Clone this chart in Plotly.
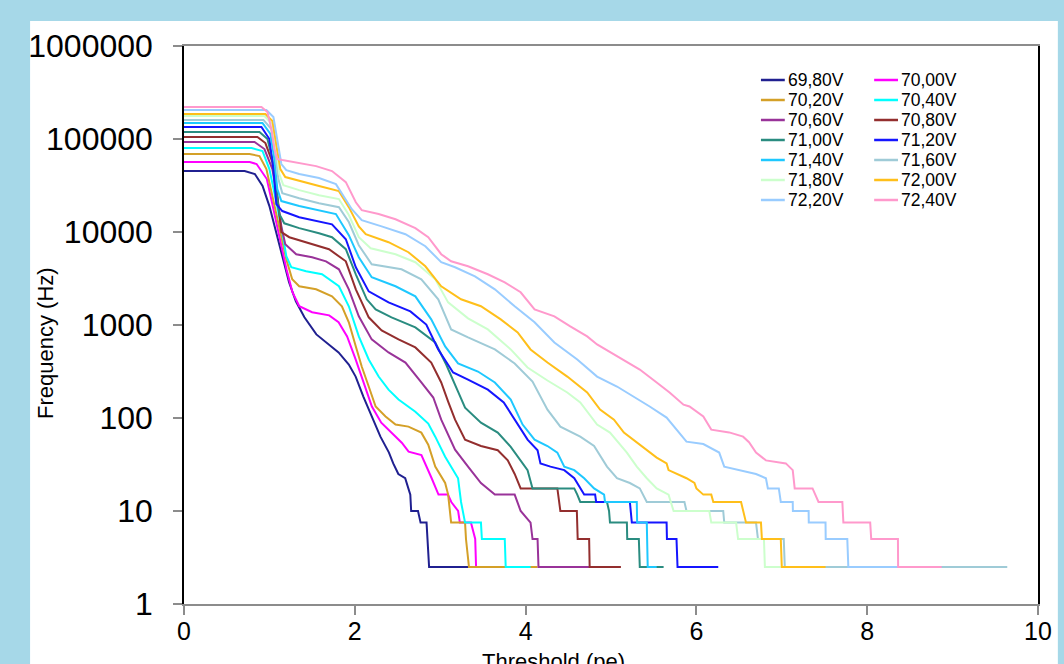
import plotly.graph_objects as go

# Threshold scans: rate above threshold vs threshold (pe), one series per bias voltage
labels = ["69,80V", "70,00V", "70,20V", "70,40V", "70,60V", "70,80V", "71,00V",
          "71,20V", "71,40V", "71,60V", "71,80V", "72,00V", "72,20V", "72,40V"]
colors = ["#202090", "#ff00ff", "#d4a028", "#00ffff", "#993399", "#932e2e", "#2a8c80",
          "#1515ff", "#1ec8ff", "#9fcbd7", "#ccffcc", "#ffbf1a", "#99ccff", "#ff99cc"]

x_6980 = [0, 0.71, 0.83, 0.92, 1.00, 1.08, 1.15, 1.23, 1.31, 1.41, 1.55, 1.70, 1.81, 1.93, 2.01,
          2.10, 2.20, 2.30, 2.40, 2.45, 2.51, 2.59, 2.65, 2.66, 2.74, 2.77, 2.84, 2.87, 3.35]
f_6980 = [45200, 45200, 42000, 31200, 19000, 9950, 5350, 2880, 1800, 1210, 792, 618, 507, 376, 279,
          170, 104, 63, 42.5, 32.5, 25, 22.5, 15, 10, 10, 7.5, 7.5, 2.5, 2.5]

x_7000 = [0, 0.77, 0.85, 0.97, 1.03, 1.12, 1.20, 1.27, 1.35, 1.50, 1.70, 1.81, 1.91, 2.01, 2.10,
          2.20, 2.31, 2.43, 2.55, 2.63, 2.78, 2.90, 2.98, 3.09, 3.13, 3.21, 3.23, 3.36, 3.41, 3.42, 3.62]
f_7000 = [56500, 56500, 53800, 37100, 20900, 9010, 3970, 2250, 1590, 1370, 1270, 1070, 754, 426, 241,
          133, 89, 69.6, 54.3, 43.5, 40, 22.5, 15, 15, 12.5, 10, 7.5, 7.5, 5, 2.5, 2.5]

x_7020 = [0, 0.767, 0.884, 0.965, 1.035, 1.116, 1.198, 1.267, 1.349, 1.547, 1.733, 1.849, 1.930,
          2.012, 2.081, 2.163, 2.244, 2.360, 2.477, 2.628, 2.779, 2.860, 2.942, 3.058, 3.093, 3.128,
          3.291, 3.302, 3.337, 4.140]
f_7020 = [68900, 68900, 65600, 47500, 24300, 10700, 5090, 3100, 2610, 2420, 2030, 1590, 1070,
          588, 358, 218, 133, 104, 85, 80.8, 69.6, 51.7, 30, 20, 15, 7.5,
          7.5, 5, 2.5, 2.5]

x_7040 = [0, 0.791, 0.919, 1.0, 1.081, 1.151, 1.198, 1.256, 1.430, 1.616, 1.814, 1.930, 2.047,
          2.163, 2.279, 2.395, 2.512, 2.709, 2.860, 2.942, 3.058, 3.209, 3.244, 3.291, 3.477, 3.488,
          3.756, 3.767, 4.058]
f_7040 = [80000, 80000, 74300, 47500, 20900, 9950, 5490, 4180, 3780, 3510, 2610, 1590, 754,
          426, 279, 202, 158, 117, 87, 63, 38.4, 22.5, 12.5, 7.5, 7.5, 5,
          5, 2.5, 2.5]

x_7060 = [0, 0.826, 0.942, 1.035, 1.093, 1.140, 1.186, 1.314, 1.5, 1.663, 1.814, 1.930, 2.047,
          2.198, 2.395, 2.593, 2.779, 2.919, 3.012, 3.093, 3.174, 3.326, 3.477, 3.640, 3.872, 3.942,
          4.058, 4.081, 4.140, 4.151, 4.837]
f_7060 = [92900, 92900, 78000, 47500, 22600, 11500, 7390, 5770, 5350, 4840, 3970, 2420, 1240,
          700, 507, 395, 241, 166, 96, 66.2, 45.6, 30, 20, 15, 15, 10,
          7.5, 5, 5, 2.5, 2.5]

x_7080 = [0, 0.860, 0.953, 1.035, 1.081, 1.116, 1.140, 1.233, 1.465, 1.698, 1.895, 2.012, 2.163,
          2.314, 2.512, 2.709, 2.895, 3.012, 3.093, 3.174, 3.291, 3.477, 3.674, 3.791, 3.872, 3.942,
          4.372, 4.407, 4.600, 4.610, 4.744, 4.750, 5.116]
f_7080 = [105000, 105000, 90500, 56500, 31200, 14800, 9950, 8790, 7570, 6530, 4840, 2420, 1210,
          875, 700, 574, 395, 241, 150, 96, 58.5, 50, 45, 35, 25, 17.5,
          17.5, 10, 10, 5, 5, 2.5, 2.5]

x_7100 = [0, 0.884, 0.977, 1.035, 1.081, 1.116, 1.174, 1.349, 1.581, 1.733, 1.895, 2.012, 2.140,
          2.244, 2.430, 2.709, 2.942, 3.070, 3.209, 3.291, 3.477, 3.674, 3.826, 3.942, 4.023, 4.081,
          4.570, 4.605, 4.640, 4.953, 4.977, 4.988, 5.186, 5.190, 5.326, 5.337, 5.616]
f_7100 = [119000, 119000, 100000, 60900, 28900, 15600, 12400, 11000, 9700, 8790, 6530, 3510, 1890,
          1470, 1210, 942, 649, 376, 192, 129, 89, 69.6, 49, 35, 27.5, 17.5,
          17.5, 15, 12.5, 12.5, 10, 7.5, 7.5, 5, 5, 2.5, 2.5]

x_7120 = [0, 0.907, 1.0, 1.047, 1.081, 1.151, 1.349, 1.581, 1.733, 1.895, 2.012, 2.163, 2.395,
          2.651, 2.837, 2.977, 3.151, 3.326, 3.558, 3.744, 3.907, 4.023, 4.140, 4.174, 4.291, 4.453,
          4.570, 4.640, 4.686, 4.814, 4.826, 5.221, 5.244, 5.651, 5.655, 5.767, 5.779, 6.256]
f_7120 = [134600, 134600, 100000, 47500, 19900, 16800, 14400, 13100, 12100, 8360, 4180, 2300, 1750,
          1400, 1010, 546, 309, 259, 202, 147, 85, 58.5, 45, 32.5, 30, 27.5,
          22.5, 17.5, 15, 15, 12.5, 12.5, 7.5, 7.5, 5, 5, 2.5, 2.5]

x_7140 = [0, 0.919, 1.012, 1.058, 1.093, 1.140, 1.349, 1.581, 1.779, 1.930, 2.047, 2.198, 2.477,
          2.709, 2.895, 3.058, 3.209, 3.442, 3.640, 3.826, 3.965, 4.105, 4.256, 4.372, 4.453, 4.570,
          4.686, 4.802, 4.919, 4.930, 5.302, 5.306, 5.419, 5.430, 5.535]
f_7140 = [148700, 148700, 113200, 60900, 28900, 21500, 19000, 17200, 15600, 9240, 5350, 3260, 2610,
          2030, 1150, 588, 386, 316, 241, 158, 85, 58.5, 50, 42.5, 30, 27.5,
          22.5, 17.5, 15, 12.5, 12.5, 7.5, 7.5, 2.5, 2.5]

x_7160 = [0, 0.930, 1.023, 1.070, 1.105, 1.151, 1.349, 1.581, 1.814, 1.930, 2.047, 2.198, 2.547,
          2.779, 2.977, 3.128, 3.326, 3.640, 3.872, 4.081, 4.256, 4.407, 4.640, 4.802, 4.953, 5.070,
          5.221, 5.337, 5.419, 5.860, 5.884, 6.314, 6.326, 6.698, 6.721, 7.023, 7.035, 9.640]
f_7160 = [160300, 160300, 128200, 68900, 37100, 26200, 23100, 20400, 18500, 12800, 7210, 4500, 3970,
          3100, 1890, 897, 735, 546, 386, 247, 123, 80.8, 63, 50, 30, 22.5,
          20, 17.5, 12.5, 12.5, 10, 10, 7.5, 7.5, 5, 5, 2.5, 2.5]

x_7180 = [0, 0.942, 1.035, 1.081, 1.116, 1.163, 1.349, 1.581, 1.814, 1.930, 2.047, 2.186, 2.477,
          2.709, 2.942, 3.093, 3.326, 3.558, 3.826, 4.023, 4.256, 4.488, 4.640, 4.837, 4.988, 5.186,
          5.302, 5.419, 5.535, 5.674, 5.733, 6.151, 6.174, 6.465, 6.488, 6.791, 6.802, 6.988]
f_7180 = [177000, 177000, 145200, 78000, 42000, 31900, 28200, 24900, 22600, 15200, 8790, 6690, 5770,
          4730, 3100, 1750, 1180, 897, 546, 349, 253, 188, 147, 85, 69.6, 42.5,
          30, 22.5, 17.5, 15, 10, 10, 7.5, 7.5, 5, 5, 2.5, 2.5]

x_7200 = [0, 0.953, 1.035, 1.081, 1.128, 1.186, 1.349, 1.581, 1.814, 1.930, 2.047, 2.128, 2.395,
          2.628, 2.826, 3.012, 3.244, 3.477, 3.709, 3.907, 4.058, 4.256, 4.488, 4.721, 4.872, 5.035,
          5.151, 5.302, 5.419, 5.535, 5.651, 5.674, 5.884, 5.977, 6.0, 6.081, 6.174, 6.198, 6.523,
          6.581, 6.756, 6.767, 6.988, 7.0, 7.512]
f_7200 = [186000, 186000, 156300, 88300, 47500, 39000, 35300, 31200, 27500, 18500, 11500, 9470, 7770,
          6060, 4280, 2610, 1890, 1590, 1150, 832, 546, 395, 279, 188, 123, 96,
          69.6, 54.3, 45, 37.5, 32.5, 27.5, 22.5, 20, 17.5, 15, 15, 12.5, 12.5,
          7.5, 7.5, 5, 5, 2.5, 2.5]

x_7220 = [0, 0.965, 1.047, 1.093, 1.140, 1.198, 1.349, 1.581, 1.779, 1.965, 2.081, 2.314, 2.593,
          2.826, 3.012, 3.174, 3.407, 3.640, 3.872, 4.105, 4.337, 4.605, 4.837, 5.070, 5.267, 5.453,
          5.651, 5.802, 5.884, 6.081, 6.267, 6.326, 6.5, 6.698, 6.814, 6.837, 6.965, 6.988, 7.128,
          7.13, 7.314, 7.316, 7.512, 7.514, 7.767, 7.779, 8.384]
f_7220 = [205200, 205200, 172600, 100000, 53800, 46300, 42000, 38000, 32700, 17600, 13400, 11500, 9470,
          7030, 4730, 4180, 3340, 2420, 1590, 1070, 649, 426, 279, 218, 170, 133,
          101, 69.6, 55.7, 52.5, 42.5, 30, 27.5, 25, 22.5, 17.5, 17.5, 12.5, 12.5,
          10, 10, 7.5, 7.5, 5, 5, 2.5, 2.5]

x_7240 = [0, 0.907, 0.977, 1.023, 1.058, 1.093, 1.151, 1.349, 1.547, 1.733, 1.895, 2.012, 2.081,
          2.279, 2.477, 2.709, 2.860, 3.012, 3.128, 3.326, 3.558, 3.756, 3.942, 4.105, 4.337, 4.523,
          4.721, 4.837, 5.070, 5.337, 5.535, 5.686, 5.849, 5.919, 6.081, 6.174, 6.384, 6.547, 6.616,
          6.698, 6.814, 7.047, 7.128, 7.151, 7.360, 7.430, 7.709, 7.721, 8.035, 8.047, 8.360, 8.362,
          8.872]
f_7240 = [221000, 221000, 195400, 128200, 78000, 60900, 59400, 55100, 51100, 45200, 34400, 20900, 17200,
          15600, 13700, 11000, 8790, 5770, 4840, 4280, 3510, 2880, 2250, 1470, 1240, 966,
          754, 618, 459, 332, 241, 188, 139, 133, 104, 75, 70, 63, 55,
          42.5, 35, 32.5, 27.5, 17.5, 17.5, 12.5, 12.5, 7.5, 7.5, 5, 5, 2.5,
          2.5]

thresholds = [x_6980, x_7000, x_7020, x_7040, x_7060, x_7080, x_7100,
              x_7120, x_7140, x_7160, x_7180, x_7200, x_7220, x_7240]
rates = [f_6980, f_7000, f_7020, f_7040, f_7060, f_7080, f_7100,
         f_7120, f_7140, f_7160, f_7180, f_7200, f_7220, f_7240]

y_ticks = [1, 10, 100, 1000, 10000, 100000, 1000000]
y_ticktext = ["1", "10", "100", "1000", "10000", "100000", "1000000"]
x_ticks = [0, 2, 4, 6, 8, 10]

FONT = "Liberation Sans, Arial, sans-serif"
W, H = 1064, 664
ML, MR, MT, MB = 184, 20, 46, 60
PW, PH = W - ML - MR, H - MT - MB


def px_x(px):
    return (px - ML) / PW


def px_y(py):
    return (H - MB - py) / PH


fig = go.Figure()
for name, color, xs, ys in zip(labels, colors, thresholds, rates):
    if len(xs) != len(ys):
        raise ValueError(name)
    fig.add_trace(go.Scatter(x=xs, y=ys, mode="lines", name=name,
                             line=dict(color=color, width=2), showlegend=False))

shapes = [dict(type="rect", xref="paper", yref="paper",
               x0=px_x(29), x1=px_x(W), y0=px_y(H), y1=px_y(21),
               fillcolor="white", line=dict(width=0), layer="below")]
annotations = [
    dict(text="Frequency (Hz)", textangle=-90, xref="paper", yref="paper",
         x=px_x(44), y=px_y(343), xanchor="center", yanchor="middle", showarrow=False,
         font=dict(family=FONT, size=22, color="black")),
    dict(text="Threshold (pe)", xref="paper", yref="paper", x=px_x(556), y=px_y(647),
         xanchor="center", yanchor="top", showarrow=False,
         font=dict(family=FONT, size=22, color="black")),
]

# two-column key, filled row by row
for i, (name, color) in enumerate(zip(labels, colors)):
    row, col = divmod(i, 2)
    cy = 80 + 20 * row
    x0 = 765 + 114 * col
    shapes.append(dict(type="line", xref="paper", yref="paper",
                       x0=px_x(x0), x1=px_x(x0 + 24), y0=px_y(cy), y1=px_y(cy),
                       line=dict(color=color, width=2.5)))
    annotations.append(dict(text=name, xref="paper", yref="paper", x=px_x(x0 + 25), y=px_y(cy),
                            xanchor="left", yanchor="middle", showarrow=False,
                            font=dict(family=FONT, size=17.5, color="black")))

fig.update_layout(
    width=W, height=H,
    margin=dict(l=ML, r=MR, t=MT, b=MB),
    paper_bgcolor="#a6d8e8", plot_bgcolor="white",
    font=dict(family=FONT, color="black"),
    shapes=shapes, annotations=annotations,
    xaxis=dict(range=[0, 10], tickvals=x_ticks, ticks="outside", ticklen=9, tickwidth=1.5,
               tickcolor="#8c8c8c", showline=True, linecolor="#8c8c8c", linewidth=1.5, mirror=True,
               showgrid=False, zeroline=False, ticklabelstandoff=-5,
               tickfont=dict(family=FONT, size=25, color="black")),
    yaxis=dict(type="log", range=[0, 6], tickvals=y_ticks, ticktext=y_ticktext, ticks="outside",
               ticklen=9, tickwidth=1.5, tickcolor="#8c8c8c", showline=True, linecolor="black",
               linewidth=1.5, mirror=True, showgrid=False, zeroline=False, ticklabelstandoff=14,
               tickfont=dict(family=FONT, size=32, color="black")),
)

fig.write_html("out.html")
